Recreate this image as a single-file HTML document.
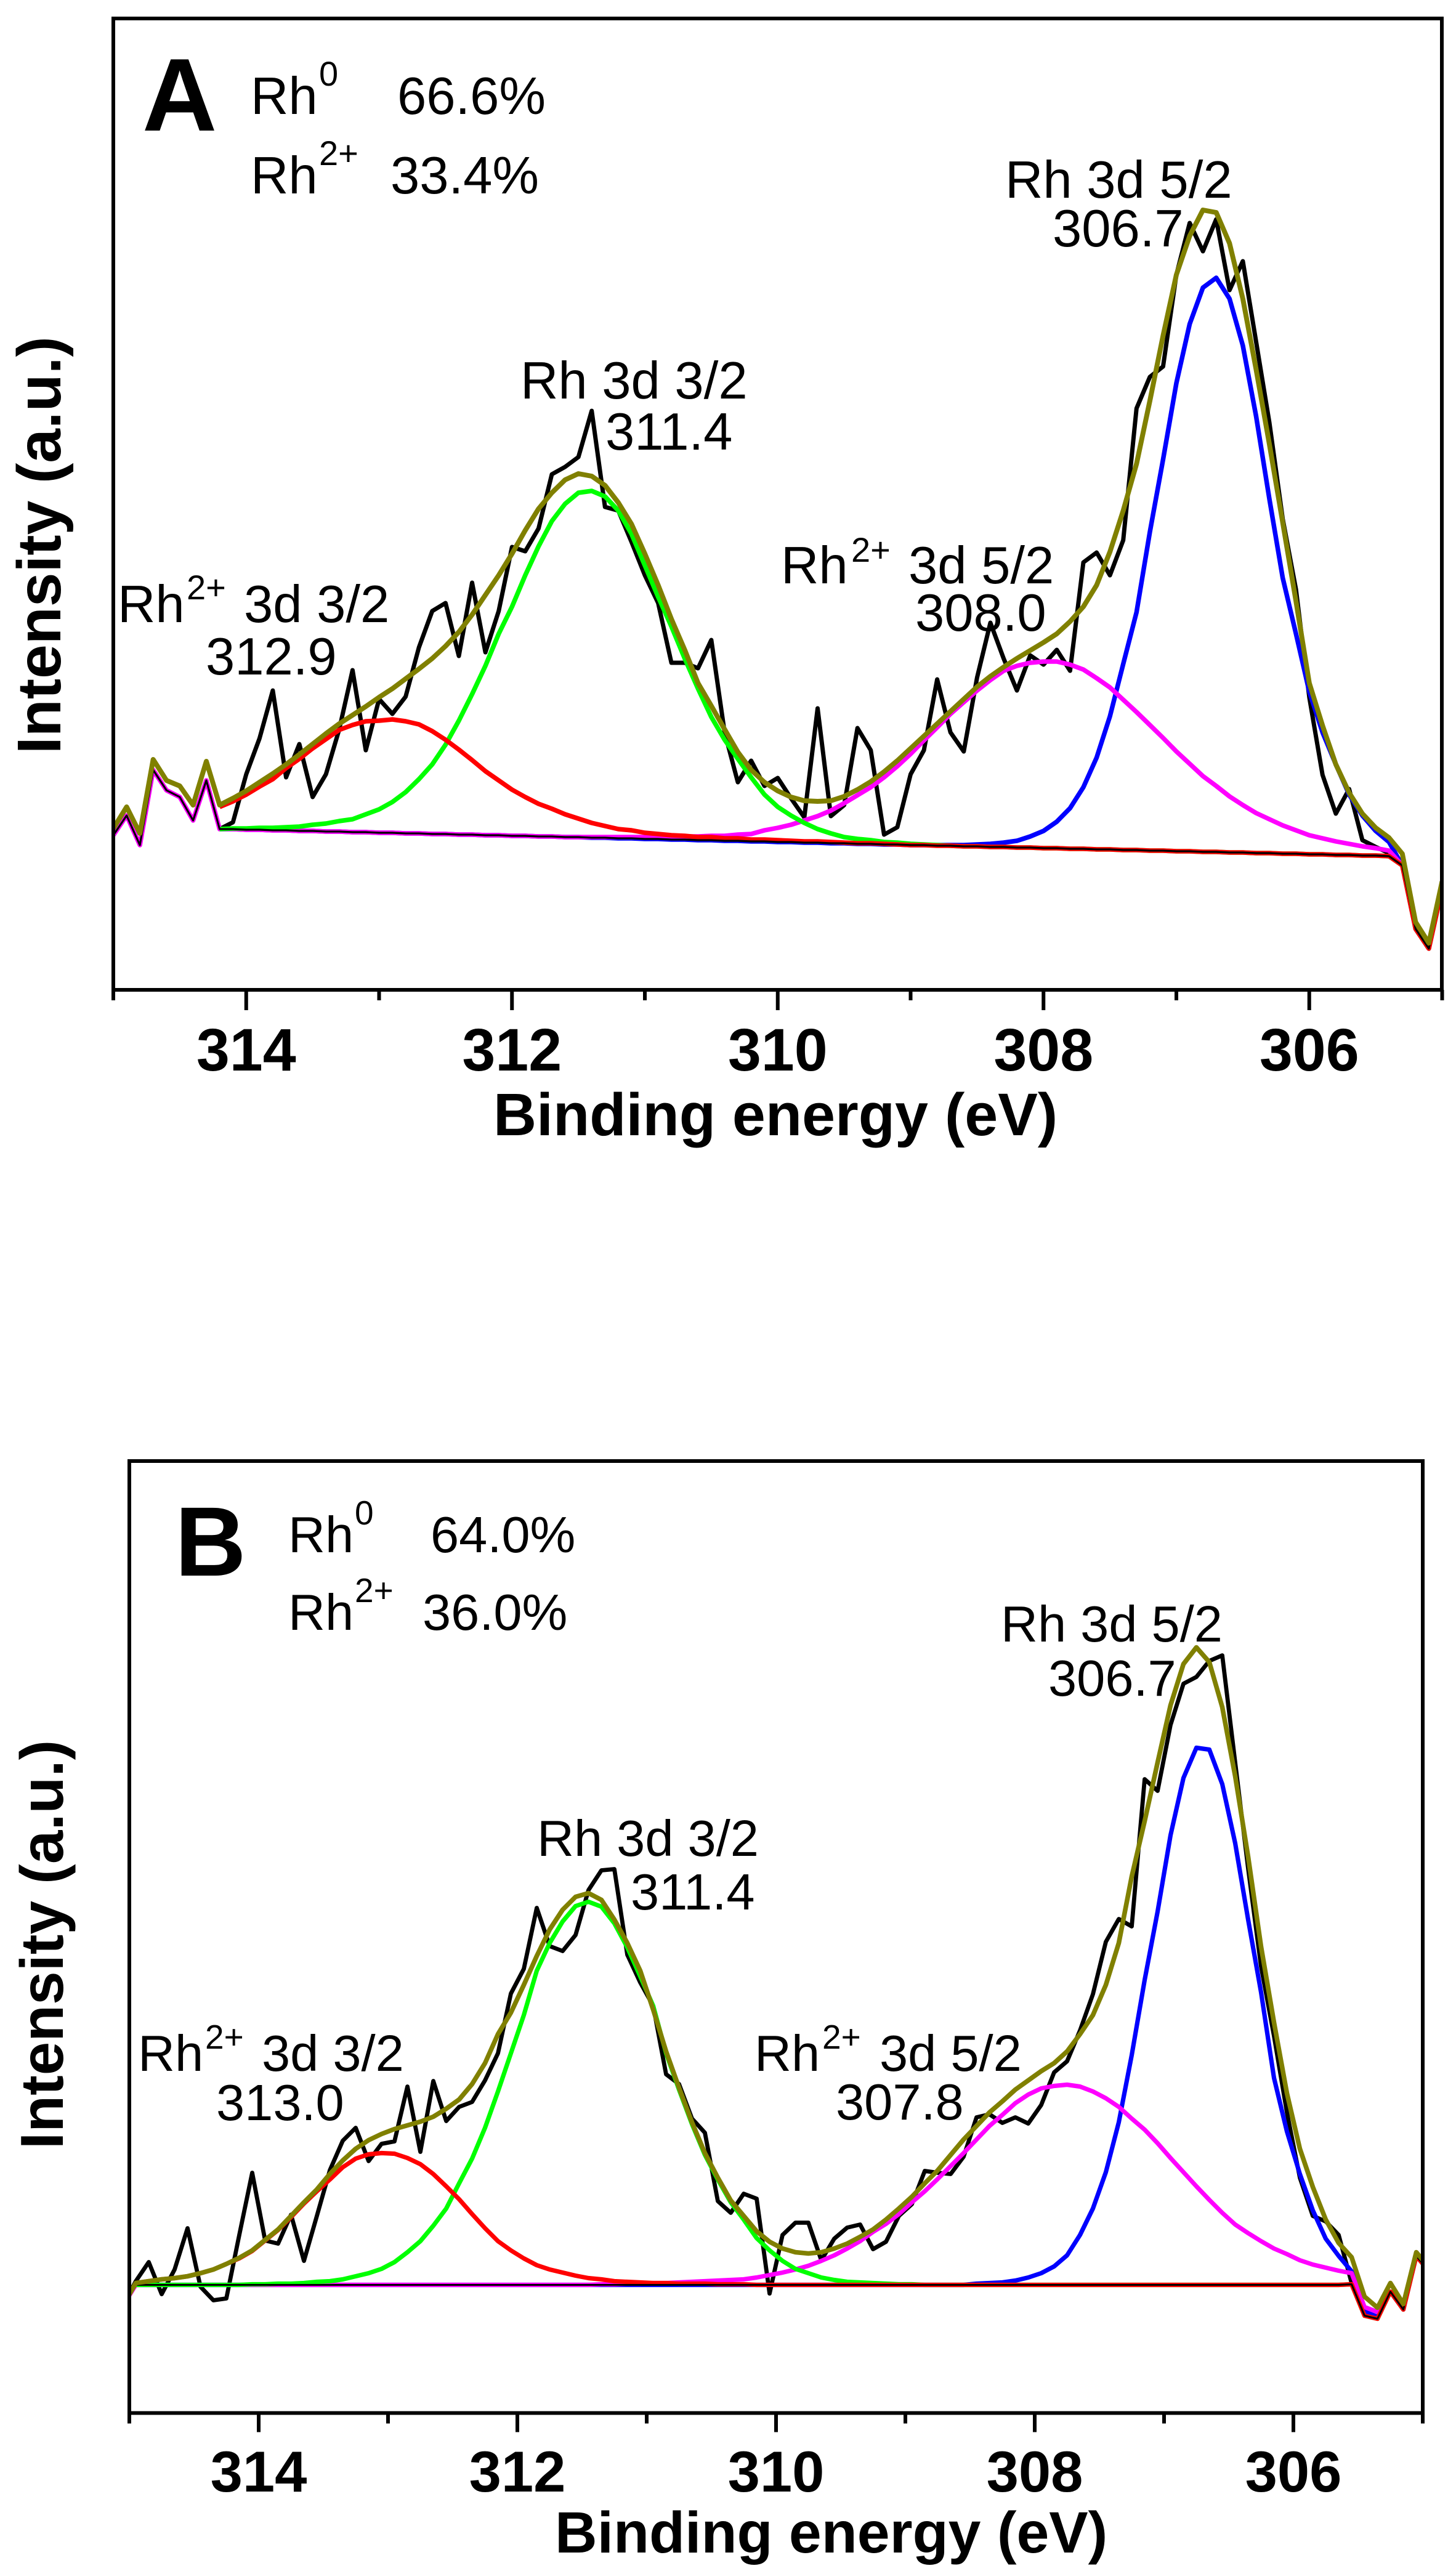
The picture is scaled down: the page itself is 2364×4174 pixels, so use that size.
<!DOCTYPE html>
<html lang="en">
<head>
<meta charset="utf-8">
<title>Rh 3d XPS spectra</title>
<style>
html,body{margin:0;padding:0;background:#fff;}
svg{display:block;font-family:"Liberation Sans",Arial,sans-serif;fill:#000;}
text{fill:#000;}
.b{font-weight:bold;}
</style>
</head>
<body>
<svg id="chart" xmlns="http://www.w3.org/2000/svg" width="2364" height="4174" viewBox="0 0 2364 4174">
<defs>
<clipPath id="clip-a"><rect x="184" y="30" width="2157" height="1577"></rect></clipPath>
<clipPath id="clip-b"><rect x="210" y="2372" width="2100" height="1545.5"></rect></clipPath>
</defs>
<rect x="0" y="0" width="2364" height="4174" fill="#fff"></rect>

<g id="panel-a">
<g id="marks-a" clip-path="url(#clip-a)" fill="none"></g>
<rect x="184" y="30" width="2157" height="1577" fill="none" stroke="#000" stroke-width="6"></rect>
<g id="ticks-a"></g>
<text class="b" x="231" y="212" font-size="168">A</text>
<g font-size="85">
<text x="407" y="185">Rh</text>
<text x="518" y="139" font-size="56">0</text>
<text x="645" y="185">66.6%</text>
<text x="407" y="314">Rh</text>
<text x="518" y="268" font-size="56">2+</text>
<text x="634" y="314">33.4%</text>
</g>
<g font-size="85">
<text x="845" y="647">Rh 3d 3/2</text>
<text x="983" y="730">311.4</text>
<text x="1632" y="321">Rh 3d 5/2</text>
<text x="1709" y="400">306.7</text>
<text x="1268" y="947">Rh</text>
<text x="1382" y="912" font-size="56">2+</text>
<text x="1475" y="947">3d 5/2</text>
<text x="1486" y="1024">308.0</text>
<text x="191" y="1010">Rh</text>
<text x="303" y="973" font-size="56">2+</text>
<text x="396" y="1010">3d 3/2</text>
<text x="334" y="1095">312.9</text>
</g>
<text class="b" x="801" y="1843" font-size="97">Binding energy (eV)</text>
<text class="b" transform="translate(98,1224) rotate(-90)" font-size="100">Intensity (a.u.)</text>
</g>

<g id="panel-b">
<g id="marks-b" clip-path="url(#clip-b)" fill="none"></g>
<rect x="210" y="2372" width="2100" height="1545.5" fill="none" stroke="#000" stroke-width="6"></rect>
<g id="ticks-b"></g>
<text class="b" x="284" y="2558" font-size="160">B</text>
<g font-size="83">
<text x="468" y="2520">Rh</text>
<text x="576" y="2475" font-size="55">0</text>
<text x="699" y="2520">64.0%</text>
<text x="468" y="2646">Rh</text>
<text x="576" y="2601" font-size="55">2+</text>
<text x="686" y="2646">36.0%</text>
</g>
<g font-size="83">
<text x="872" y="3013">Rh 3d 3/2</text>
<text x="1024" y="3100">311.4</text>
<text x="1625" y="2665">Rh 3d 5/2</text>
<text x="1702" y="2753">306.7</text>
<text x="1225" y="3362">Rh</text>
<text x="1335" y="3326" font-size="55">2+</text>
<text x="1428" y="3362">3d 5/2</text>
<text x="1357" y="3441">307.8</text>
<text x="224" y="3362">Rh</text>
<text x="333" y="3326" font-size="55">2+</text>
<text x="425" y="3362">3d 3/2</text>
<text x="351" y="3442">313.0</text>
</g>
<text class="b" x="901" y="4144" font-size="95">Binding energy (eV)</text>
<text class="b" transform="translate(102,3489) rotate(-90)" font-size="98">Intensity (a.u.)</text>
</g>
</svg>

<script>
// ---------- shared axis data ----------
const tickEnergies = [315,314,313,312,311,310,309,308,307,306,305];
const tickLabels = ["",314,"",312,"",310,"",308,"",306,""];

// ---------- panel A data ----------
const energyA = [315,314.9,314.8,314.7,314.6,314.5,314.4,314.3,314.2,314.1,
314,313.9,313.8,313.7,313.6,313.5,313.4,313.3,313.2,313.1,
313,312.9,312.8,312.7,312.6,312.5,312.4,312.3,312.2,312.1,
312,311.9,311.8,311.7,311.6,311.5,311.4,311.3,311.2,311.1,
311,310.9,310.8,310.7,310.6,310.5,310.4,310.3,310.2,310.1,
310,309.9,309.8,309.7,309.6,309.5,309.4,309.3,309.2,309.1,
309,308.9,308.8,308.7,308.6,308.5,308.4,308.3,308.2,308.1,
308,307.9,307.8,307.7,307.6,307.5,307.4,307.3,307.2,307.1,
307,306.9,306.8,306.7,306.6,306.5,306.4,306.3,306.2,306.1,
306,305.9,305.8,305.7,305.6,305.5,305.4,305.3,305.2,305.1,
305];
const measuredA = [251,283,235,357,324,313,275,340,261,272,
350,408,486,345,399,313,350,423,519,389,
472,448,476,556,615,628,542,661,548,615,
719,712,749,837,849,865,940,784,778,727,
673,628,531,531,522,568,418,337,372,331,
344,311,280,457,282,300,425,389,252,264,
350,389,504,418,387,507,596,538,486,543,
528,552,518,694,710,673,730,944,995,1012,
1161,1245,1199,1251,1136,1183,1052,921,765,650,
475,349,286,326,243,232,222,202,99,67,
165];
const backgroundA = [251,283,235,357,324,313,275,340,261,261,
260,260,259,259,258,258,257,257,256,256,
255,255,254,254,253,253,252,252,251,251,
250,250,249,249,248,248,247,247,246,246,
245,245,244,244,243,243,242,242,241,241,
240,240,239,239,238,238,237,237,236,236,
235,235,234,234,233,233,232,232,231,231,
230,230,229,229,228,228,227,227,226,226,
225,225,224,224,223,223,222,222,221,221,
220,220,219,219,218,218,217,202,99,67,
165];
const fitA = [262,297,254,374,340,331,300,371,300,311,
323,337,351,366,382,399,416,432,446,460,
475,489,505,521,538,558,581,609,641,673,
708,746,781,807,828,838,834,819,791,756,
708,657,602,552,498,461,423,386,357,337,
323,313,307,306,307,314,325,338,354,372,
392,412,432,452,472,492,509,524,538,551,
564,578,598,622,657,711,778,854,956,1062,
1161,1224,1266,1262,1212,1122,1007,886,759,631,
498,429,366,320,286,263,247,221,110,76,
176];
const peakRh2p32A = [null,null,null,null,null,null,null,null,36,45,
57,70,83,101,117,134,150,165,174,180,
182,184,182,177,167,153,138,121,104,89,
75,63,53,45,37,30,24,19,15,13,
10,8,7,6,5,5,4,4,3,3,
3,2,2,2,2,1,1,1,1,0,
0,0,0,0,0,0,0,0,0,0,
0,0,0,0,0,0,0,0,0,0,
0,0,0,0,0,0,0,0,0,0,
0,0,0,0,0,0,0,0,0,0,
0];
const peakRh32A = [null,null,null,null,null,null,null,null,0,1,
2,3,4,5,7,10,13,17,21,29,
38,50,67,88,113,145,185,228,275,327,
372,423,471,512,541,559,563,554,532,494,
444,393,346,294,246,200,164,133,104,76,
57,43,32,22,16,10,8,6,4,3,
2,1,1,0,0,0,0,0,0,0,
0,0,0,0,0,0,0,0,0,0,
0,0,0,0,0,0,0,0,0,0,
0,0,0,0,0,0,0,0,0,0,
0];
const peakRh2p52A = [0,0,0,0,0,0,0,0,0,0,
0,0,0,0,0,0,0,0,0,0,
0,0,0,0,0,0,0,0,0,0,
0,0,0,0,0,0,1,1,2,2,
3,3,4,5,6,7,8,10,12,18,
23,28,36,43,53,65,79,92,109,127,
148,170,192,214,234,253,271,286,295,300,
303,303,299,291,278,263,244,224,204,183,
162,142,123,107,91,77,65,55,46,38,
31,26,22,18,15,12,9,0,0,0,
0];
const peakRh52A = [null,null,null,null,null,null,null,null,0,0,
0,0,0,0,0,0,0,0,0,0,
0,0,0,0,0,0,0,0,0,0,
0,0,0,0,0,0,0,0,0,0,
0,0,0,0,0,0,0,0,0,0,
0,0,0,0,0,0,0,0,0,0,
0,0,1,1,2,3,5,7,11,18,
28,43,66,100,149,216,302,386,517,635,
760,856,916,932,899,823,709,575,448,357,
264,198,147,98,65,40,23,0,0,0,
0];

// ---------- panel B data ----------
const energyB = [315.05,314.95,314.85,314.75,314.65,314.55,314.45,314.35,314.25,314.15,
314.05,313.95,313.85,313.75,313.65,313.55,313.45,313.35,313.25,313.15,
313.05,312.95,312.85,312.75,312.65,312.55,312.45,312.35,312.25,312.15,
312.05,311.95,311.85,311.75,311.65,311.55,311.45,311.35,311.25,311.15,
311.05,310.95,310.85,310.75,310.65,310.55,310.45,310.35,310.25,310.15,
310.05,309.95,309.85,309.75,309.65,309.55,309.45,309.35,309.25,309.15,
309.05,308.95,308.85,308.75,308.65,308.55,308.45,308.35,308.25,308.15,
308.05,307.95,307.85,307.75,307.65,307.55,307.45,307.35,307.25,307.15,
307.05,306.95,306.85,306.75,306.65,306.55,306.45,306.35,306.25,306.15,
306.05,305.95,305.85,305.75,305.65,305.55,305.45,305.35,305.25,305.15,
305.05,304.95];
const measuredB = [174,214,245,193,233,300,205,183,186,289,
390,280,275,322,247,320,394,442,463,409,
437,441,530,424,539,474,497,505,540,584,
681,721,820,758,750,776,849,881,883,744,
699,661,550,534,478,455,344,325,356,348,
194,289,309,309,248,283,301,306,266,278,
320,339,393,390,388,416,480,485,471,480,
470,500,553,571,621,680,765,802,790,1029,
1010,1117,1184,1195,1221,1230,1056,884,725,612,
488,382,320,311,289,211,158,153,197,168,
255,230];
const backgroundB = [174,208,208,208,208,208,208,208,208,208,
208,208,208,208,208,208,208,208,208,208,
208,208,208,208,208,208,208,208,208,208,
208,208,208,208,208,208,208,208,208,208,
208,208,208,208,208,208,208,208,208,208,
208,208,208,208,208,208,208,208,208,208,
208,208,208,208,208,208,208,208,208,208,
208,208,208,208,208,208,208,208,208,208,
208,208,208,208,208,208,208,208,208,208,
208,208,208,208,208,209,158,153,197,168,
255,230];
const fitB = [174,211,214,217,219,222,227,233,242,252,
264,281,298,320,342,363,388,410,429,443,
453,461,467,473,481,494,509,534,568,615,
650,695,742,785,817,838,844,833,801,763,
718,655,587,528,472,422,382,345,320,295,
278,267,261,259,261,267,275,286,298,314,
332,351,373,394,419,444,466,488,506,525,
540,555,568,587,615,646,695,763,871,961,
1056,1149,1216,1243,1219,1146,1034,903,757,634,
519,429,367,314,276,253,189,171,211,177,
261,236];
const peakRh2p32B = [null,3,6,9,11,14,19,25,34,43,
55,72,89,110,132,152,171,191,205,212,
214,213,206,196,180,160,139,115,92,71,
56,43,32,25,20,15,11,9,6,5,
4,3,3,2,2,2,1,1,1,0,
0,0,0,0,0,0,0,0,0,0,
0,0,0,0,0,0,0,0,0,0,
0,0,0,0,0,0,0,0,0,0,
0,0,0,0,0,0,0,0,0,0,
0,0,0,0,0,0,0,0,0,0,
0,0];
const peakRh32B = [null,0,0,0,0,0,0,0,0,0,
1,1,2,2,3,5,6,9,14,19,
26,37,53,71,96,124,165,205,255,314,
376,438,510,555,590,615,622,614,587,548,
501,453,376,317,261,211,171,134,106,76,
56,39,26,19,12,8,5,4,3,2,
1,1,0,0,0,0,0,0,0,0,
0,0,0,0,0,0,0,0,0,0,
0,0,0,0,0,0,0,0,0,0,
0,0,0,0,0,0,0,0,0,0,
0,0];
const peakRh2p52B = [0,0,0,0,0,0,0,0,0,0,
0,0,0,0,0,0,0,0,0,0,
0,0,0,0,0,0,0,0,0,0,
0,0,0,0,0,0,0,1,1,2,
2,3,3,4,5,6,7,8,9,12,
16,20,25,31,39,48,59,71,86,99,
115,134,152,172,193,214,236,258,276,295,
309,319,323,325,322,314,303,289,270,252,
230,206,183,160,138,117,98,84,71,59,
50,40,33,28,23,18,14,11,0,0,
0,0];
const peakRh52B = [null,0,0,0,0,0,0,0,0,0,
0,0,0,0,0,0,0,0,0,0,
0,0,0,0,0,0,0,0,0,0,
0,0,0,0,0,0,0,0,0,0,
0,0,0,0,0,0,0,0,0,0,
0,0,0,0,0,0,0,0,0,0,
0,0,0,0,0,0,2,3,4,7,
12,19,30,48,81,124,183,264,373,495,
606,730,823,872,869,813,717,593,475,336,
249,180,121,75,47,21,7,3,0,0,
0,0];

// ---------- axis functions ----------
const NS = 'http://www.w3.org/2000/svg';
function scaleX(left, right, energy) { return left + (315 - energy) / 10 * (right - left); }
function scaleY(top, bottom, domainMax, value) { return bottom - value / domainMax * (bottom - top); }
const xA = function (e) { return scaleX(184, 2341.5, e); };
const yA = function (v) { return scaleY(30, 1607, 1577, v); };
const xB = function (e) { return scaleX(210, 2310, e); };
const yB = function (v) { return scaleY(2372, 3917.5, 1545.5, v); };

function stack(base, peak) {
  return base.map(function (b, i) {
    return peak[i] === null ? null : b + peak[i];
  });
}
function drawLine(parent, energies, values, xf, yf, color, width) {
  const pts = [];
  values.forEach(function (v, i) {
    if (v !== null) pts.push(xf(energies[i]).toFixed(1) + ',' + yf(v).toFixed(1));
  });
  const el = document.createElementNS(NS, 'polyline');
  el.setAttribute('points', pts.join(' '));
  el.setAttribute('fill', 'none');
  el.setAttribute('stroke', color);
  el.setAttribute('stroke-width', width);
  el.setAttribute('stroke-linejoin', 'round');
  parent.appendChild(el);
  return el;
}
function drawTicks(parent, xf, axisY, majorLen, minorLen, labelY, fontSize) {
  tickEnergies.forEach(function (e, i) {
    const major = tickLabels[i] !== "";
    const t = document.createElementNS(NS, 'line');
    t.setAttribute('x1', xf(e));
    t.setAttribute('x2', xf(e));
    t.setAttribute('y1', axisY);
    t.setAttribute('y2', axisY + (major ? majorLen : minorLen));
    t.setAttribute('stroke', '#000');
    t.setAttribute('stroke-width', 6);
    
    
    parent.appendChild(t);
    if (major) {
      const s = document.createElementNS(NS, 'text');
      s.setAttribute('x', xf(e));
      s.setAttribute('y', labelY);
      s.setAttribute('text-anchor', 'middle');
      s.setAttribute('font-size', fontSize);
      s.setAttribute('font-weight', 'bold');
      
      
      s.textContent = tickLabels[i];
      parent.appendChild(s);
    }
  });
}

// ---------- panel A marks ----------
const marksA = document.getElementById('marks-a');
const measuredLineA = drawLine(marksA, energyA, measuredA, xA, yA, '#000000', 7);


const blueLineA = drawLine(marksA, energyA, stack(backgroundA, peakRh52A), xA, yA, '#0000ff', 7.5);


const magentaLineA = drawLine(marksA, energyA, stack(backgroundA, peakRh2p52A), xA, yA, '#ff00ff', 7.5);


const greenLineA = drawLine(marksA, energyA, stack(backgroundA, peakRh32A), xA, yA, '#00ff00', 7.5);


const redLineA = drawLine(marksA, energyA, stack(backgroundA, peakRh2p32A), xA, yA, '#ff0000', 7.5);


const baseLineA = drawLine(marksA, energyA, backgroundA, xA, yA, '#000000', 3.2);


const fitLineA = drawLine(marksA, energyA, fitA, xA, yA, '#808000', 8);


drawTicks(document.getElementById('ticks-a'), xA, 1607, 33, 17, 1738, 97);

// ---------- panel B marks ----------
const marksB = document.getElementById('marks-b');
const measuredLineB = drawLine(marksB, energyB, measuredB, xB, yB, '#000000', 6.8);


const blueLineB = drawLine(marksB, energyB, stack(backgroundB, peakRh52B), xB, yB, '#0000ff', 7.2);


const magentaLineB = drawLine(marksB, energyB, stack(backgroundB, peakRh2p52B), xB, yB, '#ff00ff', 7.2);


const greenLineB = drawLine(marksB, energyB, stack(backgroundB, peakRh32B), xB, yB, '#00ff00', 7.2);


const redLineB = drawLine(marksB, energyB, stack(backgroundB, peakRh2p32B), xB, yB, '#ff0000', 7.2);


const baseLineB = drawLine(marksB, energyB, backgroundB, xB, yB, '#000000', 3);


const fitLineB = drawLine(marksB, energyB, fitB, xB, yB, '#808000', 7.6);


drawTicks(document.getElementById('ticks-b'), xB, 3917.5, 31, 17, 4045, 94);
</script>
</body>
</html>
